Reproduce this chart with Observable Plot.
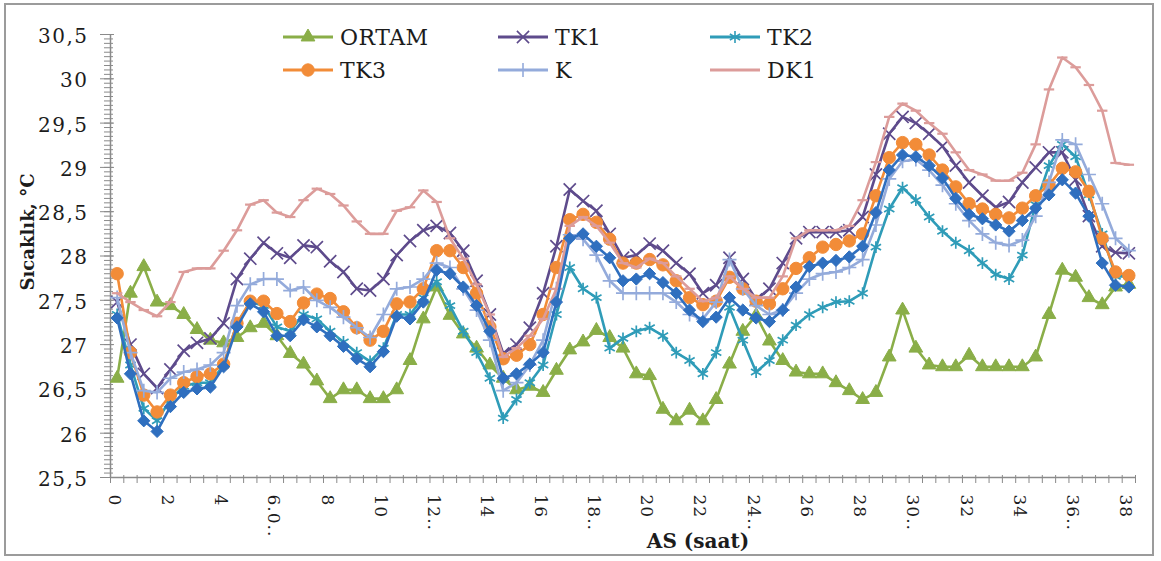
<!DOCTYPE html>
<html>
<head>
<meta charset="utf-8">
<script src="https://cdn.jsdelivr.net/npm/d3@7"></script>
<script src="https://cdn.jsdelivr.net/npm/@observablehq/plot@0.6"></script>
<style>
html, body { margin: 0; padding: 0; background: #ffffff; }
#wrap { position: relative; width: 1161px; height: 561px; overflow: hidden; font-family: 'DejaVu Serif', serif; }
#wrap > svg { position: absolute; left: 0; top: 0; }
#frame { position: absolute; left: 4px; top: 3px; width: 1150px; height: 553px; border: 2px solid #9b9b9b; box-sizing: border-box; pointer-events: none; }
</style>
</head>
<body>
<div id="wrap"><div id="frame"></div></div>
<script>
// ---------- data ----------
const hours = [0,0.5,1,1.5,2,2.5,3,3.5,4,4.5,5,5.5,6,6.5,7,7.5,8,8.5,9,9.5,10,10.5,11,11.5,12,12.5,13,13.5,14,14.5,15,15.5,16,16.5,17,17.5,18,18.5,19,19.5,20,20.5,21,21.5,22,22.5,23,23.5,24,24.5,25,25.5,26,26.5,27,27.5,28,28.5,29,29.5,30,30.5,31,31.5,32,32.5,33,33.5,34,34.5,35,35.5,36,36.5,37,37.5,38];

const xTickHours = [0,2,4,6,8,10,12,14,16,18,20,22,24,26,28,30,32,34,36,38];
const xTickLabels = ["0","2","4","6.0..","8","10","12..","14","16","18..","20","22","24..","26","28","30..","32","34","36..","38"];
const yTickValues = [25.5,26,26.5,27,27.5,28,28.5,29,29.5,30,30.5];

const ortam = [26.62,27.58,27.88,27.48,27.44,27.34,27.17,27.05,27.02,27.08,
27.19,27.24,27.1,26.9,26.78,26.59,26.39,26.49,26.49,26.39,
26.39,26.49,26.82,27.29,27.65,27.33,27.12,26.96,26.77,26.62,
26.49,26.53,26.46,26.71,26.94,27.03,27.16,27.08,26.96,26.67,
26.65,26.27,26.14,26.26,26.14,26.38,26.78,27.15,27.33,27.04,
26.82,26.69,26.67,26.67,26.57,26.48,26.38,26.46,26.86,27.39,
26.96,26.77,26.75,26.75,26.88,26.75,26.75,26.75,26.75,26.86,
27.34,27.84,27.76,27.53,27.45,27.65,27.68];

const tk1 = [27.48,27.0,26.67,26.51,26.72,26.93,27.02,27.07,27.24,27.74,
27.97,28.15,28.03,27.98,28.12,28.1,27.94,27.82,27.63,27.61,
27.74,28.01,28.17,28.29,28.34,28.26,28.06,27.72,27.34,26.9,
27.0,27.19,27.58,28.11,28.75,28.62,28.51,28.25,27.98,28.01,
28.14,28.06,27.92,27.8,27.58,27.67,27.98,27.74,27.51,27.63,
27.92,28.2,28.27,28.27,28.27,28.29,28.44,28.92,29.38,29.57,
29.5,29.38,29.24,29.02,28.83,28.68,28.55,28.61,28.83,29.0,
29.17,29.17,28.86,28.45,28.11,28.04,28.03];

const tk2 = [27.34,26.77,26.28,26.14,26.38,26.53,26.57,26.57,26.77,27.24,
27.48,27.44,27.2,27.15,27.34,27.29,27.15,27.03,26.91,26.81,
26.96,27.34,27.34,27.53,27.71,27.44,27.15,26.91,26.62,26.17,
26.38,26.57,26.77,27.34,27.87,27.63,27.53,26.96,27.07,27.15,
27.19,27.1,26.91,26.82,26.67,26.91,27.42,27.05,26.69,26.82,
27.05,27.22,27.34,27.42,27.48,27.49,27.58,28.1,28.53,28.77,
28.63,28.44,28.28,28.15,28.06,27.92,27.79,27.74,28.01,28.58,
29.02,29.26,29.12,28.69,28.25,27.77,27.77];

const tk3 = [27.8,26.91,26.43,26.24,26.43,26.57,26.64,26.67,26.78,27.24,
27.49,27.49,27.35,27.26,27.47,27.57,27.52,27.37,27.19,27.05,
27.15,27.46,27.48,27.63,28.06,28.06,27.87,27.58,27.2,26.84,
26.88,27.0,27.34,27.87,28.41,28.47,28.38,28.19,27.92,27.92,
27.96,27.9,27.72,27.53,27.45,27.49,27.76,27.63,27.49,27.46,
27.63,27.86,27.98,28.1,28.13,28.17,28.25,28.68,29.11,29.28,
29.26,29.14,28.97,28.78,28.59,28.53,28.47,28.43,28.54,28.68,
28.8,28.99,28.95,28.73,28.2,27.82,27.78];

const kSeries = [27.53,26.91,26.48,26.46,26.62,26.69,26.72,26.77,26.91,27.44,
27.68,27.74,27.74,27.61,27.65,27.5,27.42,27.31,27.19,27.08,
27.34,27.63,27.65,27.74,27.92,27.87,27.63,27.39,27.05,26.48,
26.57,26.77,27.05,27.63,28.24,28.19,28.01,27.72,27.58,27.58,
27.58,27.58,27.48,27.34,27.29,27.48,27.96,27.63,27.44,27.34,
27.39,27.58,27.74,27.8,27.82,27.87,27.96,28.35,28.87,29.07,
29.09,28.97,28.8,28.59,28.4,28.25,28.15,28.12,28.18,28.45,
28.83,29.31,29.26,28.92,28.59,28.2,28.06];

const dk1 = [27.58,27.48,27.39,27.32,27.48,27.82,27.86,27.86,28.06,28.29,
28.58,28.63,28.49,28.44,28.63,28.76,28.7,28.57,28.39,28.25,
28.25,28.51,28.55,28.74,28.61,28.2,27.97,27.68,27.34,26.86,
26.96,27.1,27.29,27.63,28.34,28.44,28.34,28.15,27.92,27.87,
27.97,27.92,27.77,27.63,27.49,27.53,27.77,27.63,27.53,27.53,
27.77,28.2,28.29,28.29,28.29,28.34,28.63,29.06,29.57,29.72,
29.64,29.5,29.38,29.17,28.97,28.92,28.85,28.85,28.94,29.26,
29.88,30.24,30.13,29.93,29.64,29.05,29.03];

// seventh series (blue diamonds), not listed in the legend
const seri7 = [27.3,26.67,26.14,26.02,26.3,26.46,26.5,26.52,26.75,27.2,
27.46,27.37,27.1,27.1,27.28,27.2,27.1,26.98,26.84,26.75,
26.92,27.32,27.29,27.48,27.84,27.8,27.65,27.44,27.15,26.62,
26.67,26.78,26.91,27.48,28.2,28.25,28.11,27.98,27.72,27.74,
27.8,27.7,27.58,27.39,27.26,27.31,27.53,27.39,27.3,27.26,
27.39,27.65,27.88,27.92,27.95,27.99,28.11,28.49,28.97,29.14,
29.12,29.02,28.88,28.65,28.47,28.42,28.35,28.28,28.4,28.54,
28.69,28.86,28.71,28.45,27.92,27.67,27.65];

const seriesNames = ["ORTAM", "TK1", "TK2", "TK3", "K", "DK1", "Seri 7"];
const seriesValues = [ortam, tk1, tk2, tk3, kSeries, dk1, seri7];

// ---------- styles ----------
const dashSymbol = {draw(context, size) { const r = Math.sqrt(size) * 0.7; context.moveTo(-r, 0); context.lineTo(r, 0); }};
const styleOf = {
  "ORTAM":  {color: "#8AAE48", symbol: "triangle", r: 5.1, filled: true},
  "TK1":    {color: "#5E4B8C", symbol: "times", r: 5.6, filled: false},
  "TK2":    {color: "#2F9CB8", symbol: "asterisk", r: 5.6, filled: false},
  "TK3":    {color: "#F28C38", symbol: "circle", r: 6.2, filled: true},
  "K":      {color: "#94ABDB", symbol: "plus", r: 4.6, filled: false},
  "DK1":    {color: "#DC9C9A", symbol: dashSymbol, r: 4.2, filled: false},
  "Seri 7": {color: "#2F6FBF", symbol: "diamond2", r: 5.5, filled: true}
};
const axisGray = "#8a8a8a";

const rows = seriesNames.flatMap((name, s) => hours.map((h, i) => ({series: name, hour: h, value: seriesValues[s][i]})));

const seriesMarks = seriesNames.flatMap(name => {
  const st = styleOf[name];
  const d = rows.filter(r => r.series === name);
  return [
    Plot.line(d, {x: "hour", y: "value", stroke: st.color, strokeWidth: 2.6}),
    Plot.dot(d, {x: "hour", y: "value", symbol: st.symbol, r: st.r,
      fill: st.filled ? st.color : "none", stroke: st.color,
      strokeWidth: st.filled ? 1 : (name === "DK1" ? 2.2 : 1.7)})
  ];
});

const catBounds = d3.range(-0.25, 38.26, 0.5);
const minorY = d3.range(25.5, 30.501, 0.05);

const chart = Plot.plot({
  width: 1161,
  height: 561,
  marginLeft: 110,
  marginRight: 26,
  marginTop: 34,
  marginBottom: 84,
  style: {fontFamily: "'DejaVu Serif', serif", fontSize: "18px", color: "#1c1c1c", background: "transparent", overflow: "visible"},
  x: {domain: [-0.25, 38.25], label: null},
  y: {domain: [25.5, 30.5], label: null},
  marks: [
    Plot.axisY(minorY, {tickSize: 9, dx: 3, tickFormat: () => "", stroke: axisGray, label: null}),
    Plot.axisY(yTickValues, {tickSize: 14, dx: 4, tickFormat: () => "", stroke: axisGray, label: null}),
    Plot.axisY(yTickValues, {tickSize: 0, tickPadding: 22, dy: 2, fontSize: 20, color: "#1c1c1c",
      tickFormat: v => String(v).replace(".", ","), label: null}),
    Plot.axisX(catBounds, {tickSize: 8, dy: -2, tickFormat: () => "", stroke: axisGray, label: null}),
    Plot.axisX(xTickHours, {tickSize: 0, tickPadding: 17, tickRotate: 90, dx: -3, fontSize: 17, color: "#1c1c1c",
      tickFormat: h => xTickLabels[xTickHours.indexOf(h)], label: null}),
    Plot.ruleX([-0.25], {stroke: axisGray, strokeWidth: 1.5}),
    Plot.ruleY([25.5], {stroke: axisGray, strokeWidth: 1.5}),
    ...seriesMarks
  ]
});

const wrap = document.getElementById("wrap");
wrap.insertBefore(chart, wrap.firstChild);
d3.select(chart).selectAll('[aria-label="y-axis tick label"] text').style("letter-spacing", "1.5px");
d3.select(chart).selectAll('[aria-label="x-axis tick label"] text').style("letter-spacing", "1px");

// ---------- legend and axis titles overlay ----------
const legendEntries = [
  {name: "ORTAM", col: 0, row: 0},
  {name: "TK1", col: 1, row: 0},
  {name: "TK2", col: 2, row: 0},
  {name: "TK3", col: 0, row: 1},
  {name: "K", col: 1, row: 1},
  {name: "DK1", col: 2, row: 1}
];
const colX = [283, 498, 710];
const rowY = [37, 70];
const symbolTypes = {triangle: d3.symbolTriangle, times: d3.symbolTimes, asterisk: d3.symbolAsterisk, circle: d3.symbolCircle, plus: d3.symbolPlus, diamond2: d3.symbolDiamond2};

const overlay = d3.select(wrap).append("svg")
  .attr("width", 1161).attr("height", 561)
  .style("font-family", "'DejaVu Serif', serif");

legendEntries.forEach(e => {
  const st = styleOf[e.name];
  const x0 = colX[e.col], y0 = rowY[e.row];
  const g = overlay.append("g");
  g.append("line").attr("x1", x0).attr("x2", x0 + 50).attr("y1", y0).attr("y2", y0)
    .attr("stroke", st.color).attr("stroke-width", 2.8);
  if (e.name !== "DK1") {
    const type = symbolTypes[st.symbol];
    g.append("path")
      .attr("d", d3.symbol(type, Math.PI * st.r * st.r)())
      .attr("transform", `translate(${x0 + 25},${y0})`)
      .attr("fill", st.filled ? st.color : "none")
      .attr("stroke", st.color).attr("stroke-width", st.filled ? 1 : 1.6);
  }
  g.append("text").attr("x", x0 + 57).attr("y", y0).attr("dy", "0.36em")
    .attr("font-size", 22).attr("fill", "#1c1c1c").style("letter-spacing", "0.5px").text(e.name);
});

overlay.append("text")
  .attr("transform", "translate(34,232) rotate(-90)")
  .attr("text-anchor", "middle").attr("font-size", 18).attr("font-weight", "bold").attr("fill", "#1c1c1c")
  .text("Sıcaklık, °C");

overlay.append("text")
  .attr("x", 698).attr("y", 548)
  .attr("text-anchor", "middle").attr("font-size", 20).attr("font-weight", "bold").attr("fill", "#1c1c1c")
  .text("AS (saat)");
</script>
</body>
</html>
